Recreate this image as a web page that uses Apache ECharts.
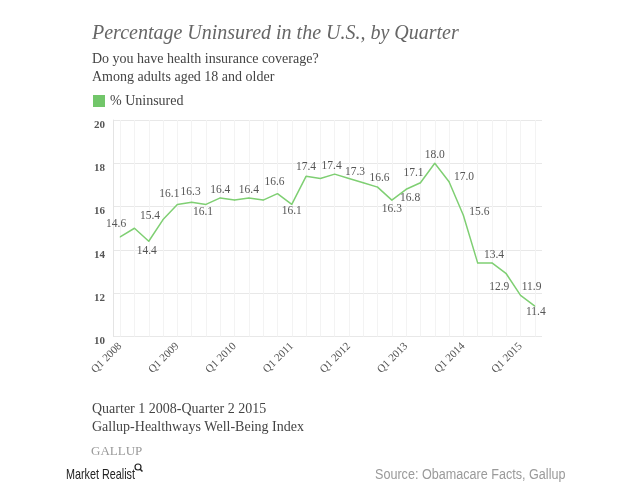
<!DOCTYPE html>
<html>
<head>
<meta charset="utf-8">
<script src="https://cdn.jsdelivr.net/npm/echarts@6/dist/echarts.min.js"></script>
<style>html,body{margin:0;padding:0;background:#fff;}#chart{width:627px;height:504px;}</style>
</head>
<body>
<div id="chart"></div>
<script>
// ---- data ----
const quarters = [
  'Q1 2008','Q2 2008','Q3 2008','Q4 2008',
  'Q1 2009','Q2 2009','Q3 2009','Q4 2009',
  'Q1 2010','Q2 2010','Q3 2010','Q4 2010',
  'Q1 2011','Q2 2011','Q3 2011','Q4 2011',
  'Q1 2012','Q2 2012','Q3 2012','Q4 2012',
  'Q1 2013','Q2 2013','Q3 2013','Q4 2013',
  'Q1 2014','Q2 2014','Q3 2014','Q4 2014',
  'Q1 2015','Q2 2015'
];
const uninsured = [
  14.6, 15.0, 14.4, 15.4,
  16.1, 16.2, 16.1, 16.4,
  16.3, 16.4, 16.3, 16.6,
  16.1, 17.4, 17.3, 17.5,
  17.3, 17.1, 16.9, 16.3,
  16.8, 17.1, 18.0, 17.15,
  15.6, 13.4, 13.4, 12.9,
  11.9, 11.4
];
const pointLabels = [
  '14.6', null, '14.4', '15.4',
  '16.1', '16.3', '16.1', '16.4',
  null, '16.4', null, '16.6',
  '16.1', '17.4', null, '17.4',
  '17.3', null, '16.6', '16.3',
  '16.8', '17.1', '18.0', '17.0',
  '15.6', null, '13.4', '12.9',
  '11.9', '11.4'
];
const yTicks = [10, 12, 14, 16, 18, 20];
const seriesName = '% Uninsured';

// ---- style (label centre offsets relative to point, px) ----
const labelOffsets = [
  [-4,-13], null, [-2,10], [-13,-4],
  [-8,-10], [-1,-10], [-3,8], [0,-8],
  null, [0,-8], null, [-3,-12],
  [0,7], [0,-9], null, [-3,-8],
  [6,-6], null, [2,-9], [0,9],
  [4,9], [-7,-10], [0,-8], [15,-5],
  [16,-3], null, [2,-8], [-7,13],
  [11,-8], [1,6]
];

const serif = '"Liberation Serif", "DejaVu Serif", serif';
const lineColor = '#7fcf73';
const SYM = 1;

const chart = echarts.init(document.getElementById('chart'), null, {renderer: 'canvas'});

const seriesData = uninsured.map((v, i) => {
  const t = pointLabels[i];
  const o = labelOffsets[i];
  return {
    value: v,
    label: t == null ? {show: false} : {
      show: true,
      position: [SYM / 2 + o[0], SYM / 2 + o[1]],
      align: 'center',
      verticalAlign: 'middle',
      formatter: t
    }
  };
});

chart.setOption({
  animation: false,
  backgroundColor: '#ffffff',
  grid: {left: 113, right: 85, top: 120, bottom: 167.5, containLabel: false},
  legend: {
    left: 88, top: 89,
    icon: 'rect', itemWidth: 12, itemHeight: 12, itemGap: 6,
    textStyle: {fontFamily: serif, fontSize: 14, color: '#444'},
    data: [{name: seriesName, itemStyle: {color: '#72c66a', opacity: 1}}]
  },
  xAxis: {
    type: 'category',
    data: quarters,
    boundaryGap: true,
    axisLine: {show: false},
    axisTick: {show: false},
    axisLabel: {
      interval: (idx) => idx % 4 === 0,
      rotate: 45,
      margin: 8,
      fontFamily: serif,
      fontSize: 11,
      color: '#555'
    },
    splitLine: {show: true, alignWithLabel: true, interval: 0, lineStyle: {color: '#f3f3f3', width: 1}}
  },
  yAxis: {
    type: 'value',
    min: yTicks[0],
    max: yTicks[yTicks.length - 1],
    interval: 2,
    axisLine: {show: true, lineStyle: {color: '#e4e4e4', width: 1}},
    axisTick: {show: false},
    axisLabel: {
      margin: 8,
      fontFamily: serif,
      fontSize: 11,
      fontWeight: 'bold',
      color: '#555',
      verticalAlign: 'top',
      lineHeight: 10
    },
    splitLine: {show: true, lineStyle: {color: '#e8e8e8', width: 1}}
  },
  series: [{
    name: seriesName,
    type: 'line',
    data: seriesData,
    symbol: 'circle',
    symbolSize: SYM,
    showSymbol: true,
    itemStyle: {color: lineColor},
    lineStyle: {color: lineColor, width: 1.5},
    label: {
      fontFamily: serif,
      fontSize: 11.5,
      color: '#555'
    },
    labelLayout: {hideOverlap: false},
    z: 3
  }],
  graphic: [
    {type: 'text', left: 92, top: 24, style: {text: 'Percentage Uninsured in the U.S., by Quarter', font: 'italic 20px ' + serif, fill: '#666'}},
    {type: 'text', left: 92, top: 52, style: {text: 'Do you have health insurance coverage?', font: '14px ' + serif, fill: '#444'}},
    {type: 'text', left: 92, top: 70, style: {text: 'Among adults aged 18 and older', font: '14px ' + serif, fill: '#444'}},
    {type: 'text', left: 92, top: 402, style: {text: 'Quarter 1 2008-Quarter 2 2015', font: '14px ' + serif, fill: '#444'}},
    {type: 'text', left: 92, top: 420, style: {text: 'Gallup-Healthways Well-Being Index', font: '14px ' + serif, fill: '#444'}},
    {type: 'text', left: 91, top: 445, style: {text: 'GALLUP', font: '13px ' + serif, fill: '#999'}},
    {type: 'text', x: 66, y: 475, scaleX: 0.72, style: {text: 'Market Realist', font: '15px "Liberation Sans", sans-serif', fill: '#222', verticalAlign: 'middle'}},
    {type: 'circle', shape: {cx: 138, cy: 467, r: 3}, style: {fill: 'none', stroke: '#222', lineWidth: 1.2}},
    {type: 'line', shape: {x1: 140.2, y1: 469.2, x2: 142.5, y2: 471.5}, style: {stroke: '#222', lineWidth: 1.5}},
    {type: 'text', x: 375, y: 475, scaleX: 0.9, style: {text: 'Source: Obamacare Facts, Gallup', font: '14px "Liberation Sans", Arial, sans-serif', fill: '#9a9a9a', verticalAlign: 'middle'}}
  ]
});
</script>
</body>
</html>
